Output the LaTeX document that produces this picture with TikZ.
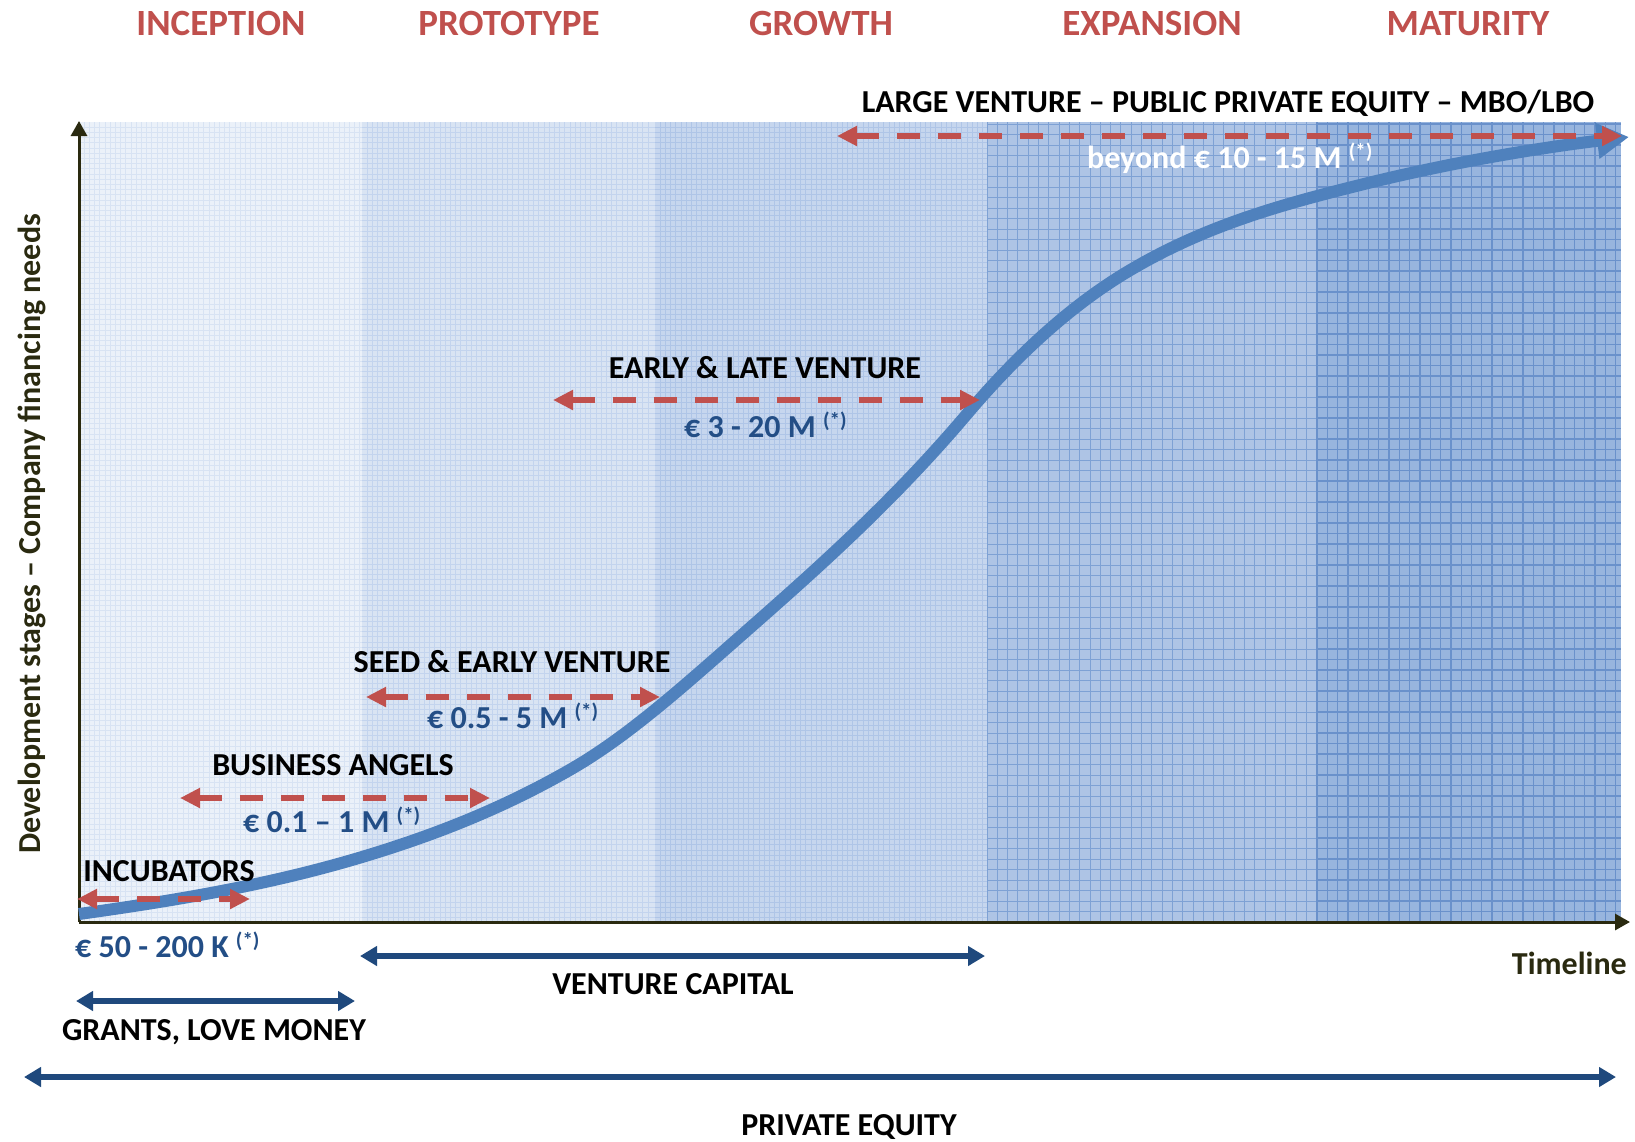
\documentclass[tikz,border=0pt]{standalone}
\usepackage{fontspec}
\setmainfont{Carlito}
\usetikzlibrary{arrows.meta}
\definecolor{hred}{HTML}{C0504D}
\definecolor{tblue}{HTML}{234E86}
\definecolor{dblue}{HTML}{1F497D}
\definecolor{cblue}{HTML}{4F81BD}
\definecolor{axcol}{HTML}{2A2A10}
\definecolor{bandA}{HTML}{EBF1F9}
\definecolor{bandB}{HTML}{D9E4F3}
\definecolor{bandC}{HTML}{C6D6EE}
\definecolor{bandD}{HTML}{AEC4E5}
\definecolor{bandE}{HTML}{98B5DE}
\definecolor{gridA}{HTML}{D8E3F3}
\definecolor{gridB}{HTML}{C3D4EE}
\definecolor{gridC}{HTML}{AFC5E7}
\definecolor{gridD}{HTML}{7EA1D4}
\definecolor{gridE}{HTML}{6A91CB}
\newcommand\sstar{\ \raisebox{10pt}{\fontsize{21}{21}\selectfont(*)}}
\begin{document}
\begin{tikzpicture}[x=1pt,y=-1pt,
  hdr/.style={text=hred, font=\bfseries\fontsize{37}{40}\selectfont, anchor=base, inner sep=0pt},
  lbl/.style={text=black, font=\bfseries\fontsize{32}{36}\selectfont, anchor=base, inner sep=0pt},
  amt/.style={text=tblue, font=\bfseries\fontsize{32}{36}\selectfont, anchor=base west, inner sep=0pt},
  rarr/.style={draw=hred, line width=6pt, dash pattern=on 23pt off 18pt,
     {Triangle[length=20pt,width=19pt]}-{Triangle[length=20pt,width=19pt]}},
  barr/.style={draw=dblue, line width=5.5pt,
     {Triangle[length=17pt,width=19pt]}-{Triangle[length=17pt,width=19pt]}},
  axisline/.style={draw=axcol, line width=3pt, -{Triangle[length=15pt,width=16pt]}},
  curveline/.style={draw=cblue, line width=12pt, -{Triangle[length=32pt,width=34pt]}}
]
\useasboundingbox (0,0) rectangle (1635,1141);
\fill[white] (0,0) rectangle (1635,1141);
% background bands
\fill[bandA] (79,122) rectangle (362,922);
\fill[bandB] (362,122) rectangle (655,922);
\fill[bandC] (655,122) rectangle (987,922);
\fill[bandD] (987,122) rectangle (1317,922);
\fill[bandE] (1317,122) rectangle (1621,922);
% textures
\foreach \x in {84.2,89.4,...,360} \draw[gridA, line width=0.7pt] (\x,122) -- (\x,922);
\foreach \y in {127.2,132.4,...,920} \draw[gridA, line width=0.7pt] (79,\y) -- (362,\y);
\foreach \x in {367.2,372.4,...,652} \draw[gridB, line width=0.9pt] (\x,122) -- (\x,922);
\foreach \y in {127.2,132.4,...,920} \draw[gridB, line width=0.9pt] (362,\y) -- (655,\y);
\foreach \x in {660.2,665.4,...,985} \draw[gridC, line width=1pt] (\x,122) -- (\x,922);
\foreach \y in {127.2,132.4,...,920} \draw[gridC, line width=1pt] (655,\y) -- (987,\y);
\foreach \x in {987,997.3,...,1317} \draw[gridD, line width=1pt] (\x,122) -- (\x,922);
\foreach \y in {922,911.5,...,122} \draw[gridD, line width=1pt] (987,\y) -- (1317,\y);
\foreach \x in {1317,1327.3,...,1621} \draw[gridE, line width=1.3pt] (\x,122) -- (\x,922);
\foreach \y in {922,911.5,...,122} \draw[gridE, line width=1.3pt] (1317,\y) -- (1621,\y);
% axes
\coordinate (O) at (79,922);
\coordinate (ytop) at (79,121);
\coordinate (xend) at (1630,922);
\draw[axisline] (O) -- (ytop);
\draw[axisline] (O) -- (xend);
% S-curve
\coordinate (c0) at (79,914);
\coordinate (c1) at (362,857);
\coordinate (c2) at (573,768);
\coordinate (c3) at (727,648);
\coordinate (c4) at (967,414);
\coordinate (c5) at (1127,272);
\coordinate (c6) at (1360,185);
\coordinate (c7) at (1629,137);
\draw[curveline] (c0) .. controls (173.3,900.8) and (267.7,885.3) .. (c1)
  .. controls (432.3,835.9) and (502.7,808.8) .. (c2)
  .. controls (624.3,738.2) and (675.7,693.2) .. (c3)
  .. controls (807,577.6) and (887,508.4) .. (c4)
  .. controls (1020.3,351.1) and (1073.7,304) .. (c5)
  .. controls (1204.7,225.4) and (1282.3,204.4) .. (c6)
  .. controls (1449.7,162.6) and (1539.3,147.8) .. (c7);
% red dashed arrows
\coordinate (lvL) at (837,136); \coordinate (lvR) at (1622,136);
\coordinate (elL) at (553,400); \coordinate (elR) at (980,400);
\coordinate (seL) at (366,697); \coordinate (seR) at (660,697);
\coordinate (baL) at (180,798); \coordinate (baR) at (490,798);
\coordinate (inL) at (77,899); \coordinate (inR) at (250,899);
\draw[rarr] (lvL) -- (lvR);
\draw[rarr] (elL) -- (elR);
\draw[rarr] (seL) -- (seR);
\draw[rarr] (baL) -- (baR);
\draw[rarr] (inL) -- (inR);
% dark blue arrows
\coordinate (vcL) at (360,956); \coordinate (vcR) at (985,956);
\coordinate (glL) at (76,1001); \coordinate (glR) at (355,1001);
\coordinate (peL) at (24,1077); \coordinate (peR) at (1616,1077);
\draw[barr] (vcL) -- (vcR);
\draw[barr] (glL) -- (glR);
\draw[barr] (peL) -- (peR);
% headers
\node[hdr] (h1) at (221,35) {INCEPTION};
\node[hdr] (h2) at (509,35) {PROTOTYPE};
\node[hdr] (h3) at (821,35) {GROWTH};
\node[hdr] (h4) at (1152,35) {EXPANSION};
\node[hdr] (h5) at (1468,35) {MATURITY};
% labels
\node[lbl] (lv) at (1228,112) {LARGE VENTURE – PUBLIC PRIVATE EQUITY – MBO/LBO};
\node[amt, text=white] (lva) at (1087,168) {beyond € 10 - 15 M\sstar};
\node[lbl] (el) at (765,378) {EARLY \& LATE VENTURE};
\node[amt] (ela) at (684,437) {€ 3 - 20 M\sstar};
\node[lbl] (se) at (512,672) {SEED \& EARLY VENTURE};
\node[amt] (sea) at (427,728) {€ 0.5 - 5 M\sstar};
\node[lbl] (ba) at (333,775) {BUSINESS ANGELS};
\node[amt] (baa) at (243,832) {€ 0.1 – 1 M\sstar};
\node[lbl] (inc) at (169,881) {INCUBATORS};
\node[amt] (inca) at (75,957) {€ 50 - 200 K\sstar};
\node[lbl] (vc) at (673,994) {VENTURE CAPITAL};
\node[lbl] (gl) at (214,1040) {GRANTS, LOVE MONEY};
\node[lbl] (pe) at (849,1135) {PRIVATE EQUITY};
\node[lbl, text=axcol, anchor=base east] (tl) at (1627,974) {Timeline};
\node[lbl, text=axcol, rotate=90] (yl) at (40,534) {Development stages – Company financing needs};
\end{tikzpicture}
\end{document}
